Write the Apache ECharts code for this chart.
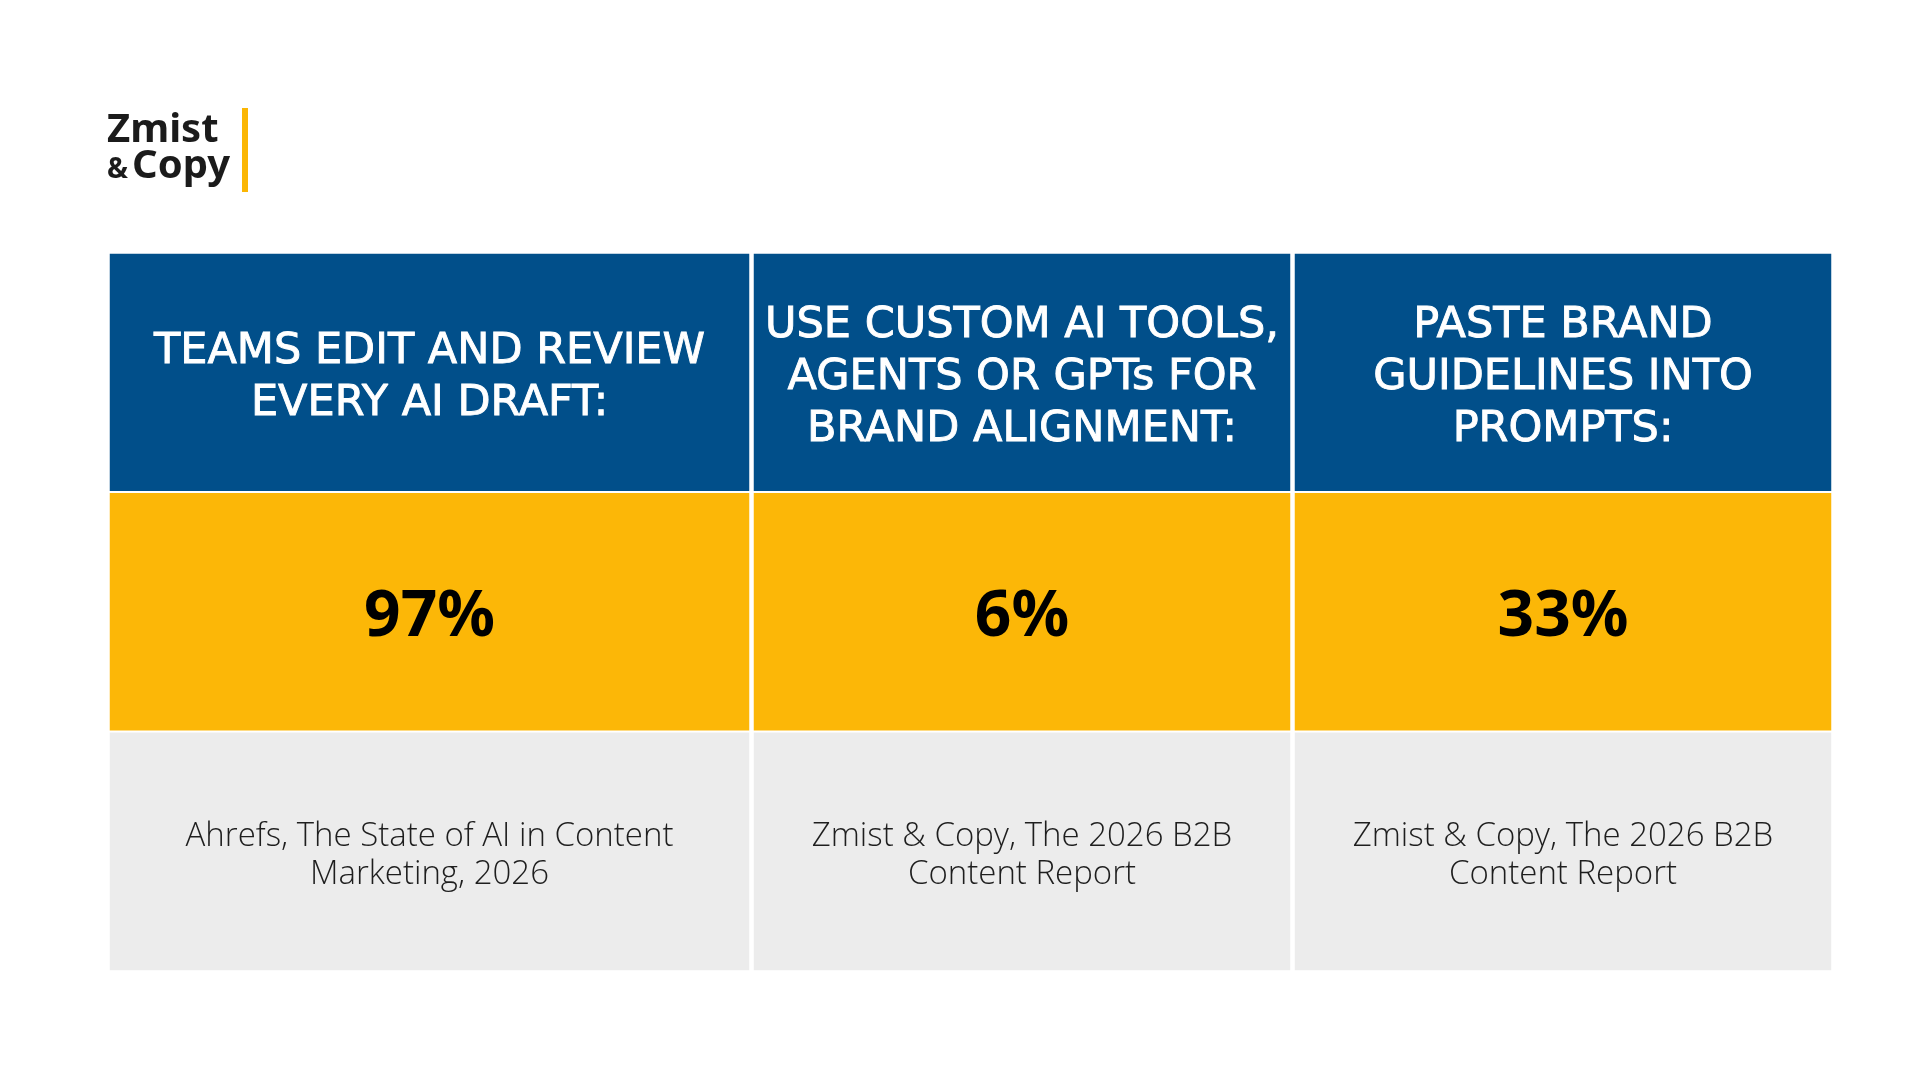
<!DOCTYPE html>
<html>
<head>
<meta charset="utf-8">
<script src="https://cdn.jsdelivr.net/npm/echarts@6/dist/echarts.min.js"></script>
<style>
  html, body { margin: 0; padding: 0; background: #fff; }
  #main { width: 1920px; height: 1080px; }
</style>
</head>
<body>
<div id="main"></div>
<script>
// table contents
var headers = [
	'TEAMS EDIT AND REVIEW\nEVERY AI DRAFT:',
	'USE CUSTOM AI TOOLS,\nAGENTS OR GPTs FOR\nBRAND ALIGNMENT:',
	'PASTE BRAND\nGUIDELINES INTO\nPROMPTS:'
];
var shares = [97, 6, 33];
var sources = [
	'Ahrefs, The State of AI in Content\nMarketing, 2026',
	'Zmist & Copy, The 2026 B2B\nContent Report',
	'Zmist & Copy, The 2026 B2B\nContent Report'
];
var rows = ['header', 'value', 'source'];

var blue = '#014f8a';
var yellow = '#fcb707';
var grey = '#ececec';

var chart = echarts.init(document.getElementById('main'));

// one grid per column, the first column is wider
var cols = [
	{ left: 109, width: 641 },
	{ left: 753, width: 538 },
	{ left: 1294, width: 538 }
];

var grids = [], xAxes = [], yAxes = [], series = [];
cols.forEach(function (c, i) {
	grids.push({ left: c.left, width: c.width, top: 253, height: 718 });
	xAxes.push({ type: 'category', gridIndex: i, data: [headers[i]], show: false });
	yAxes.push({ type: 'category', gridIndex: i, data: rows, inverse: true, show: false });
	series.push({
		type: 'heatmap',
		xAxisIndex: i,
		yAxisIndex: i,
		emphasis: { disabled: true },
		itemStyle: { borderColor: '#fff', borderWidth: 2 },
		data: [
			{
				value: [0, 0, 0],
				itemStyle: { color: blue },
				label: {
					show: true, formatter: headers[i], color: '#fff', offset: [0, 5],
					textBorderColor: '#fff', textBorderWidth: 0.9,
					fontFamily: 'DejaVu Sans', fontSize: 43, lineHeight: 52, align: 'center'
				}
			},
			{
				value: [0, 1, shares[i]],
				itemStyle: { color: yellow },
				label: {
					show: true, formatter: shares[i] + '%', color: '#000', offset: [0, 6],
					fontFamily: 'Noto Sans', fontWeight: 'bold', fontSize: 64
				}
			},
			{
				value: [0, 2, 0],
				itemStyle: { color: grey },
				label: {
					show: true, formatter: sources[i], color: '#1e1e1e', offset: [0, 4],
					fontFamily: 'Open Sans', fontWeight: 300, fontSize: 33, lineHeight: 38, align: 'center'
				}
			}
		]
	});
});

option = {
	backgroundColor: '#fff',
	animation: false,
	tooltip: { show: false },
	grid: grids,
	xAxis: xAxes,
	yAxis: yAxes,
	series: series,
	graphic: [
		{ type: 'text', left: 107, top: 111, style: { text: 'Zmist', fill: '#1b1b1b', font: 'bold 40px "Noto Sans"' } },
		{ type: 'text', left: 107, top: 156, style: { text: '&', fill: '#1b1b1b', font: 'bold 28px "Noto Sans"' } },
		{ type: 'text', left: 132, top: 147, style: { text: 'Copy', fill: '#1b1b1b', font: 'bold 40px "Noto Sans"' } },
		{ type: 'rect', shape: { x: 242, y: 108, width: 6, height: 84 }, style: { fill: '#fbb604' } }
	]
};

chart.setOption(option);

window.onresize = function () {
	chart.resize();
};
</script>
</body>
</html>
